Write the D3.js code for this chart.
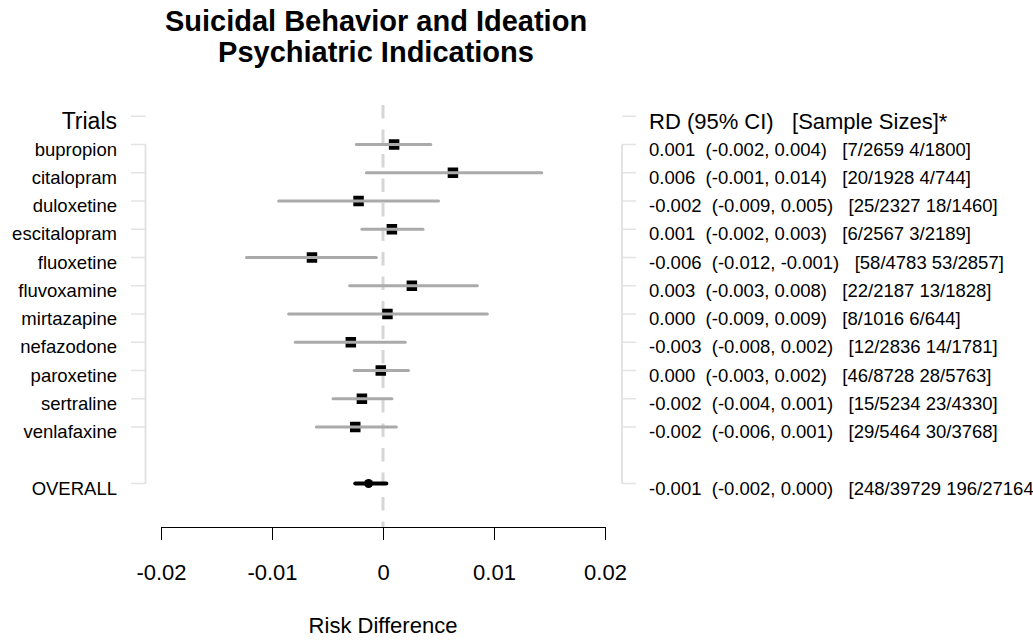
<!DOCTYPE html>
<html>
<head>
<meta charset="utf-8">
<script src="https://cdn.jsdelivr.net/npm/d3@7"></script>
<style>
  body { margin: 0; background: #fff; }
  svg { display: block; font-family: "Liberation Sans", Arial, sans-serif; }
  .pre { white-space: pre; }
</style>
</head>
<body>
<div id="chart"></div>
<script>
// Trials and risk differences
const trials = ["bupropion", "citalopram", "duloxetine", "escitalopram", "fluoxetine",
  "fluvoxamine", "mirtazapine", "nefazodone", "paroxetine", "sertraline", "venlafaxine"];
const est   = [0.0010, 0.0063, -0.0022, 0.0008, -0.0064, 0.0026, 0.0004, -0.0029, -0.0002, -0.0019, -0.0025];
const lower = [-0.0024, -0.0015, -0.0094, -0.0019, -0.0123, -0.0030, -0.0085, -0.0079, -0.0026, -0.0045, -0.0060];
const upper = [0.0043, 0.0143, 0.0050, 0.0036, -0.0006, 0.0085, 0.0094, 0.0020, 0.0023, 0.0008, 0.0012];

const overallLabel = "OVERALL";
const overallEst = -0.0013, overallLower = -0.0025, overallUpper = 0.0003;

// printed table on the right
const rdText = ["0.001", "0.006", "-0.002", "0.001", "-0.006", "0.003", "0.000", "-0.003", "0.000", "-0.002", "-0.002"];
const ciText = ["(-0.002, 0.004)", "(-0.001, 0.014)", "(-0.009, 0.005)", "(-0.002, 0.003)", "(-0.012, -0.001)",
  "(-0.003, 0.008)", "(-0.009, 0.009)", "(-0.008, 0.002)", "(-0.003, 0.002)", "(-0.004, 0.001)", "(-0.006, 0.001)"];
const sizeText = ["[7/2659 4/1800]", "[20/1928 4/744]", "[25/2327 18/1460]", "[6/2567 3/2189]", "[58/4783 53/2857]",
  "[22/2187 13/1828]", "[8/1016 6/644]", "[12/2836 14/1781]", "[46/8728 28/5763]", "[15/5234 23/4330]", "[29/5464 30/3768]"];
const overallText = ["-0.001", "(-0.002, 0.000)", "[248/39729 196/27164]"];

const xTicks = [-0.02, -0.01, 0, 0.01, 0.02];
const titleLines = ["Suicidal Behavior and Ideation", "Psychiatric Indications"];

const width = 1033, height = 641;

const svg = d3.select("#chart").append("svg")
  .attr("width", width)
  .attr("height", height);

const x = d3.scaleLinear().domain([-0.02, 0.02]).range([161, 605]);
// row index -> y ; -1 is the header row, 11 is the blank gap, 12 is overall
const y = d3.scaleLinear().domain([-1, 12]).range([116.25, 483.5]);
const overallRow = 12;
const axisY = 527;

// title
svg.append("g").selectAll("text")
  .data(titleLines)
  .join("text")
  .attr("x", 376)
  .attr("y", (d, i) => 31 + i * 31)
  .attr("text-anchor", "middle")
  .attr("font-size", 29)
  .attr("font-weight", "bold")
  .text(d => d);

// brackets
const bracket = svg.append("g")
  .attr("stroke", "#e3e3e3")
  .attr("fill", "none");

const rows = d3.range(trials.length).concat([overallRow]);
[[131, 146], [622, 636]].forEach(([x0, x1], side) => {
  const vx = side === 0 ? x1 - 0.5 : x0;
  bracket.append("line")
    .attr("x1", vx).attr("x2", vx)
    .attr("y1", y(0)).attr("y2", y(overallRow))
    .attr("stroke-width", 2);
  bracket.selectAll(null)
    .data(rows.concat([-1]))
    .join("line")
    .attr("x1", x0).attr("x2", x1)
    .attr("y1", d => y(d)).attr("y2", d => y(d))
    .attr("stroke-width", 1.5);
});

// headers
svg.append("text")
  .attr("x", 117).attr("y", y(-1) + 13)
  .attr("text-anchor", "end")
  .attr("font-size", 23)
  .text("Trials");

svg.append("text")
  .attr("class", "pre")
  .attr("x", 649).attr("y", y(-1) + 13)
  .attr("font-size", 22)
  .text("RD (95% CI)   [Sample Sizes]*");

// trial labels
svg.append("g").selectAll("text")
  .data(trials.concat([overallLabel]))
  .join("text")
  .attr("x", 117)
  .attr("y", (d, i) => y(rows[i]) + 11)
  .attr("text-anchor", "end")
  .attr("font-size", 18.5)
  .text(d => d);

// right table
const tableRows = trials.map((t, i) => [rdText[i], ciText[i], sizeText[i]]).concat([overallText]);
svg.append("g").selectAll("text")
  .data(tableRows)
  .join("text")
  .attr("class", "pre")
  .attr("x", 649)
  .attr("y", (d, i) => y(rows[i]) + 11)
  .attr("font-size", 18.5)
  .text(d => d[0] + "  " + d[1] + "   " + d[2]);

// zero line
svg.append("line")
  .attr("x1", x(0)).attr("x2", x(0))
  .attr("y1", 105).attr("y2", axisY)
  .attr("stroke", "#d6d6d6")
  .attr("stroke-width", 3)
  .attr("stroke-dasharray", "13.5,11");

// trial boxes then CI lines on top
const marks = svg.append("g");
marks.selectAll("rect")
  .data(est)
  .join("rect")
  .attr("x", d => x(d) - 5.25)
  .attr("y", (d, i) => y(i) - 5.25)
  .attr("width", 10.5)
  .attr("height", 10.5)
  .attr("fill", "#000");

marks.selectAll("line")
  .data(trials)
  .join("line")
  .attr("x1", (d, i) => x(lower[i]))
  .attr("x2", (d, i) => x(upper[i]))
  .attr("y1", (d, i) => y(i))
  .attr("y2", (d, i) => y(i))
  .attr("stroke", "#aaaaaa")
  .attr("stroke-width", 3)
  .attr("stroke-linecap", "round");

// overall
svg.append("line")
  .attr("x1", x(overallLower)).attr("x2", x(overallUpper))
  .attr("y1", y(overallRow)).attr("y2", y(overallRow))
  .attr("stroke", "#000")
  .attr("stroke-width", 4)
  .attr("stroke-linecap", "round");
svg.append("circle")
  .attr("cx", x(overallEst))
  .attr("cy", y(overallRow))
  .attr("r", 4.5)
  .attr("fill", "#000");

// x axis
const axis = svg.append("g")
  .attr("transform", `translate(0,${axisY})`)
  .call(d3.axisBottom(x)
    .tickValues(xTicks)
    .tickSize(13)
    .tickSizeOuter(0)
    .tickPadding(24)
    .tickFormat(d => d === 0 ? "0" : d.toFixed(2)));
axis.attr("font-family", null).attr("font-size", 22);
axis.selectAll("path, line").attr("stroke", "#000");

svg.append("text")
  .attr("x", x(0))
  .attr("y", 633)
  .attr("text-anchor", "middle")
  .attr("font-size", 22)
  .text("Risk Difference");
</script>
</body>
</html>
